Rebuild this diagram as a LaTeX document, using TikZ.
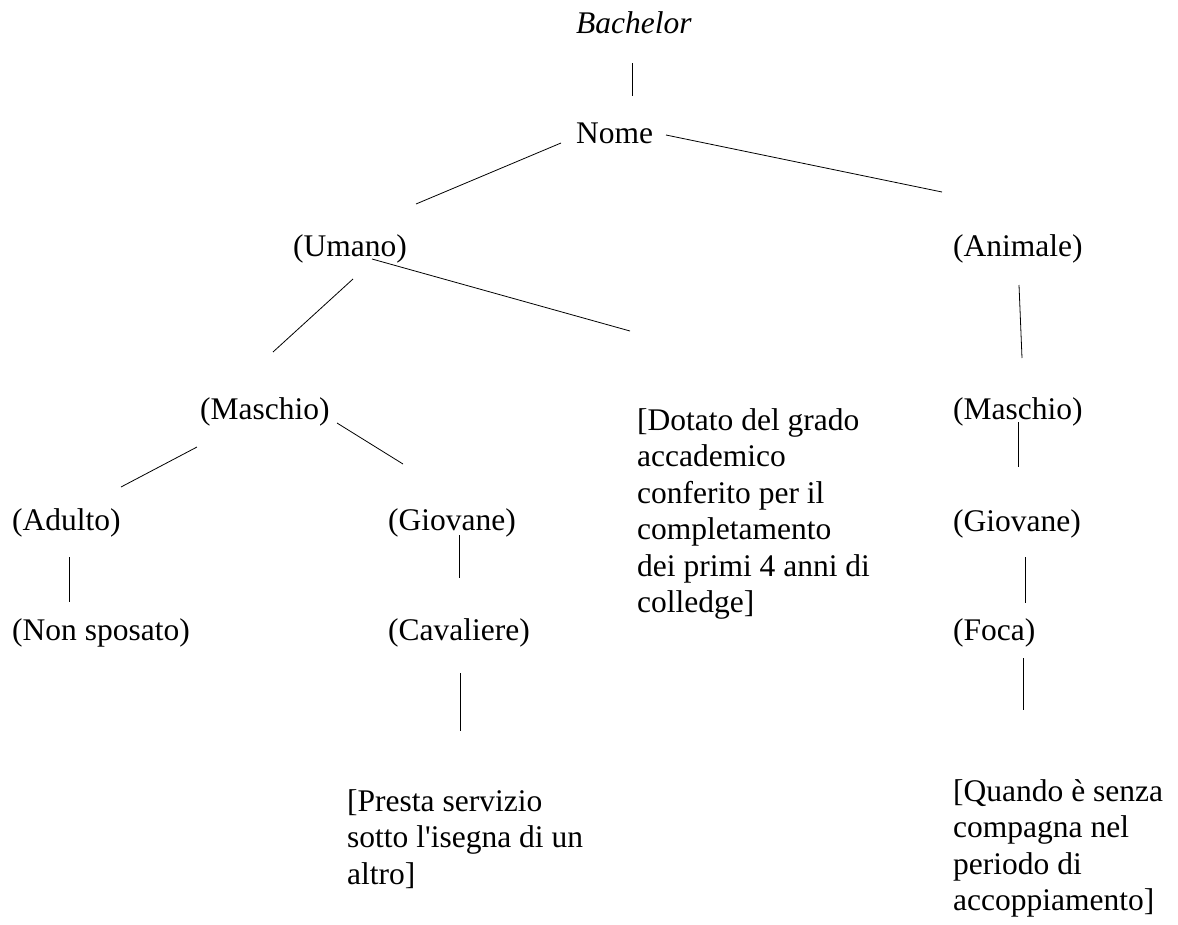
\documentclass[tikz,border=0pt]{standalone}
\usepackage{fontspec}
\setmainfont{Liberation Serif}
\usetikzlibrary{positioning}

\begin{document}
\begin{tikzpicture}[x=1pt,y=-1pt,font=\fontsize{31.5}{36.5}\selectfont,label/.style={inner sep=0pt, anchor=base west},para/.style={inner sep=0pt, anchor=north west, align=left},branch/.style={line width=0.8pt}]

  \useasboundingbox (0,0) rectangle (1178,924);

  % Root
  \node[inner sep=0pt, anchor=base] (bachelor) at (634,33) {\textit{Bachelor}};
  \node[label] (nome) at (576,143) {Nome};

  % Senses
  \node[label] (umano) at (293,256) {(Umano)};
  \node[label] (animale) at (953,256) {(Animale)};
  \node[label] (maschioU) at (200,419) {(Maschio)};
  \node[label] (maschioA) at (953,419) {(Maschio)};
  \node[label] (adulto) at (12,530) {(Adulto)};
  \node[label] (giovaneU) at (388,530) {(Giovane)};
  \node[label] (giovaneA) at (953,531) {(Giovane)};
  \node[label] (nonsposato) at (12,640) {(Non sposato)};
  \node[label] (cavaliere) at (388,640) {(Cavaliere)};
  \node[label] (foca) at (953,640) {(Foca)};

  % Distinguishers
  \node[para] (dotato) at (637,408) {[Dotato del grado\\accademico\\conferito per il\\completamento\\dei primi 4 anni di\\colledge]};
  \node[para] (presta) at (347,789) {[Presta servizio\\sotto l\textquotesingle isegna di un\\altro]};
  \node[para] (quando) at (953,779) {[Quando è senza\\compagna nel\\periodo di\\accoppiamento]};

  % Branches
  \draw[branch] ([shift={(-2,30)}]bachelor.base) -- ([shift={(56,-47)}]nome.base west);
  \draw[branch] ([shift={(-15,0)}]nome.base west) -- ([shift={(123,-52)}]umano.base west);
  \draw[branch] ([shift={(90,-8)}]nome.base west) -- ([shift={(-11,-64)}]animale.base west);
  \draw[branch] ([shift={(60,23)}]umano.base west) -- ([shift={(73,-67)}]maschioU.base west);
  \draw[branch] ([shift={(79,3)}]umano.base west) -- ([shift={(-7,-77)}]dotato.north west);
  \draw[branch] ([shift={(66,29)}]animale.base west) -- ([shift={(69,-61)}]maschioA.base west);
  \draw[branch] ([shift={(-3,28)}]maschioU.base west) -- ([shift={(109,-43)}]adulto.base west);
  \draw[branch] ([shift={(137,4)}]maschioU.base west) -- ([shift={(15,-66)}]giovaneU.base west);
  \draw[branch] ([shift={(65,3)}]maschioA.base west) -- ([shift={(65,-64)}]giovaneA.base west);
  \draw[branch] ([shift={(57,27)}]adulto.base west) -- ([shift={(57,-38)}]nonsposato.base west);
  \draw[branch] ([shift={(71,5)}]giovaneU.base west) -- ([shift={(71,-62)}]cavaliere.base west);
  \draw[branch] ([shift={(72,26)}]giovaneA.base west) -- ([shift={(72,-37)}]foca.base west);
  \draw[branch] ([shift={(72,33)}]cavaliere.base west) -- ([shift={(113,-58)}]presta.north west);
  \draw[branch] ([shift={(70,18)}]foca.base west) -- ([shift={(70,-69)}]quando.north west);
\end{tikzpicture}
\end{document}
